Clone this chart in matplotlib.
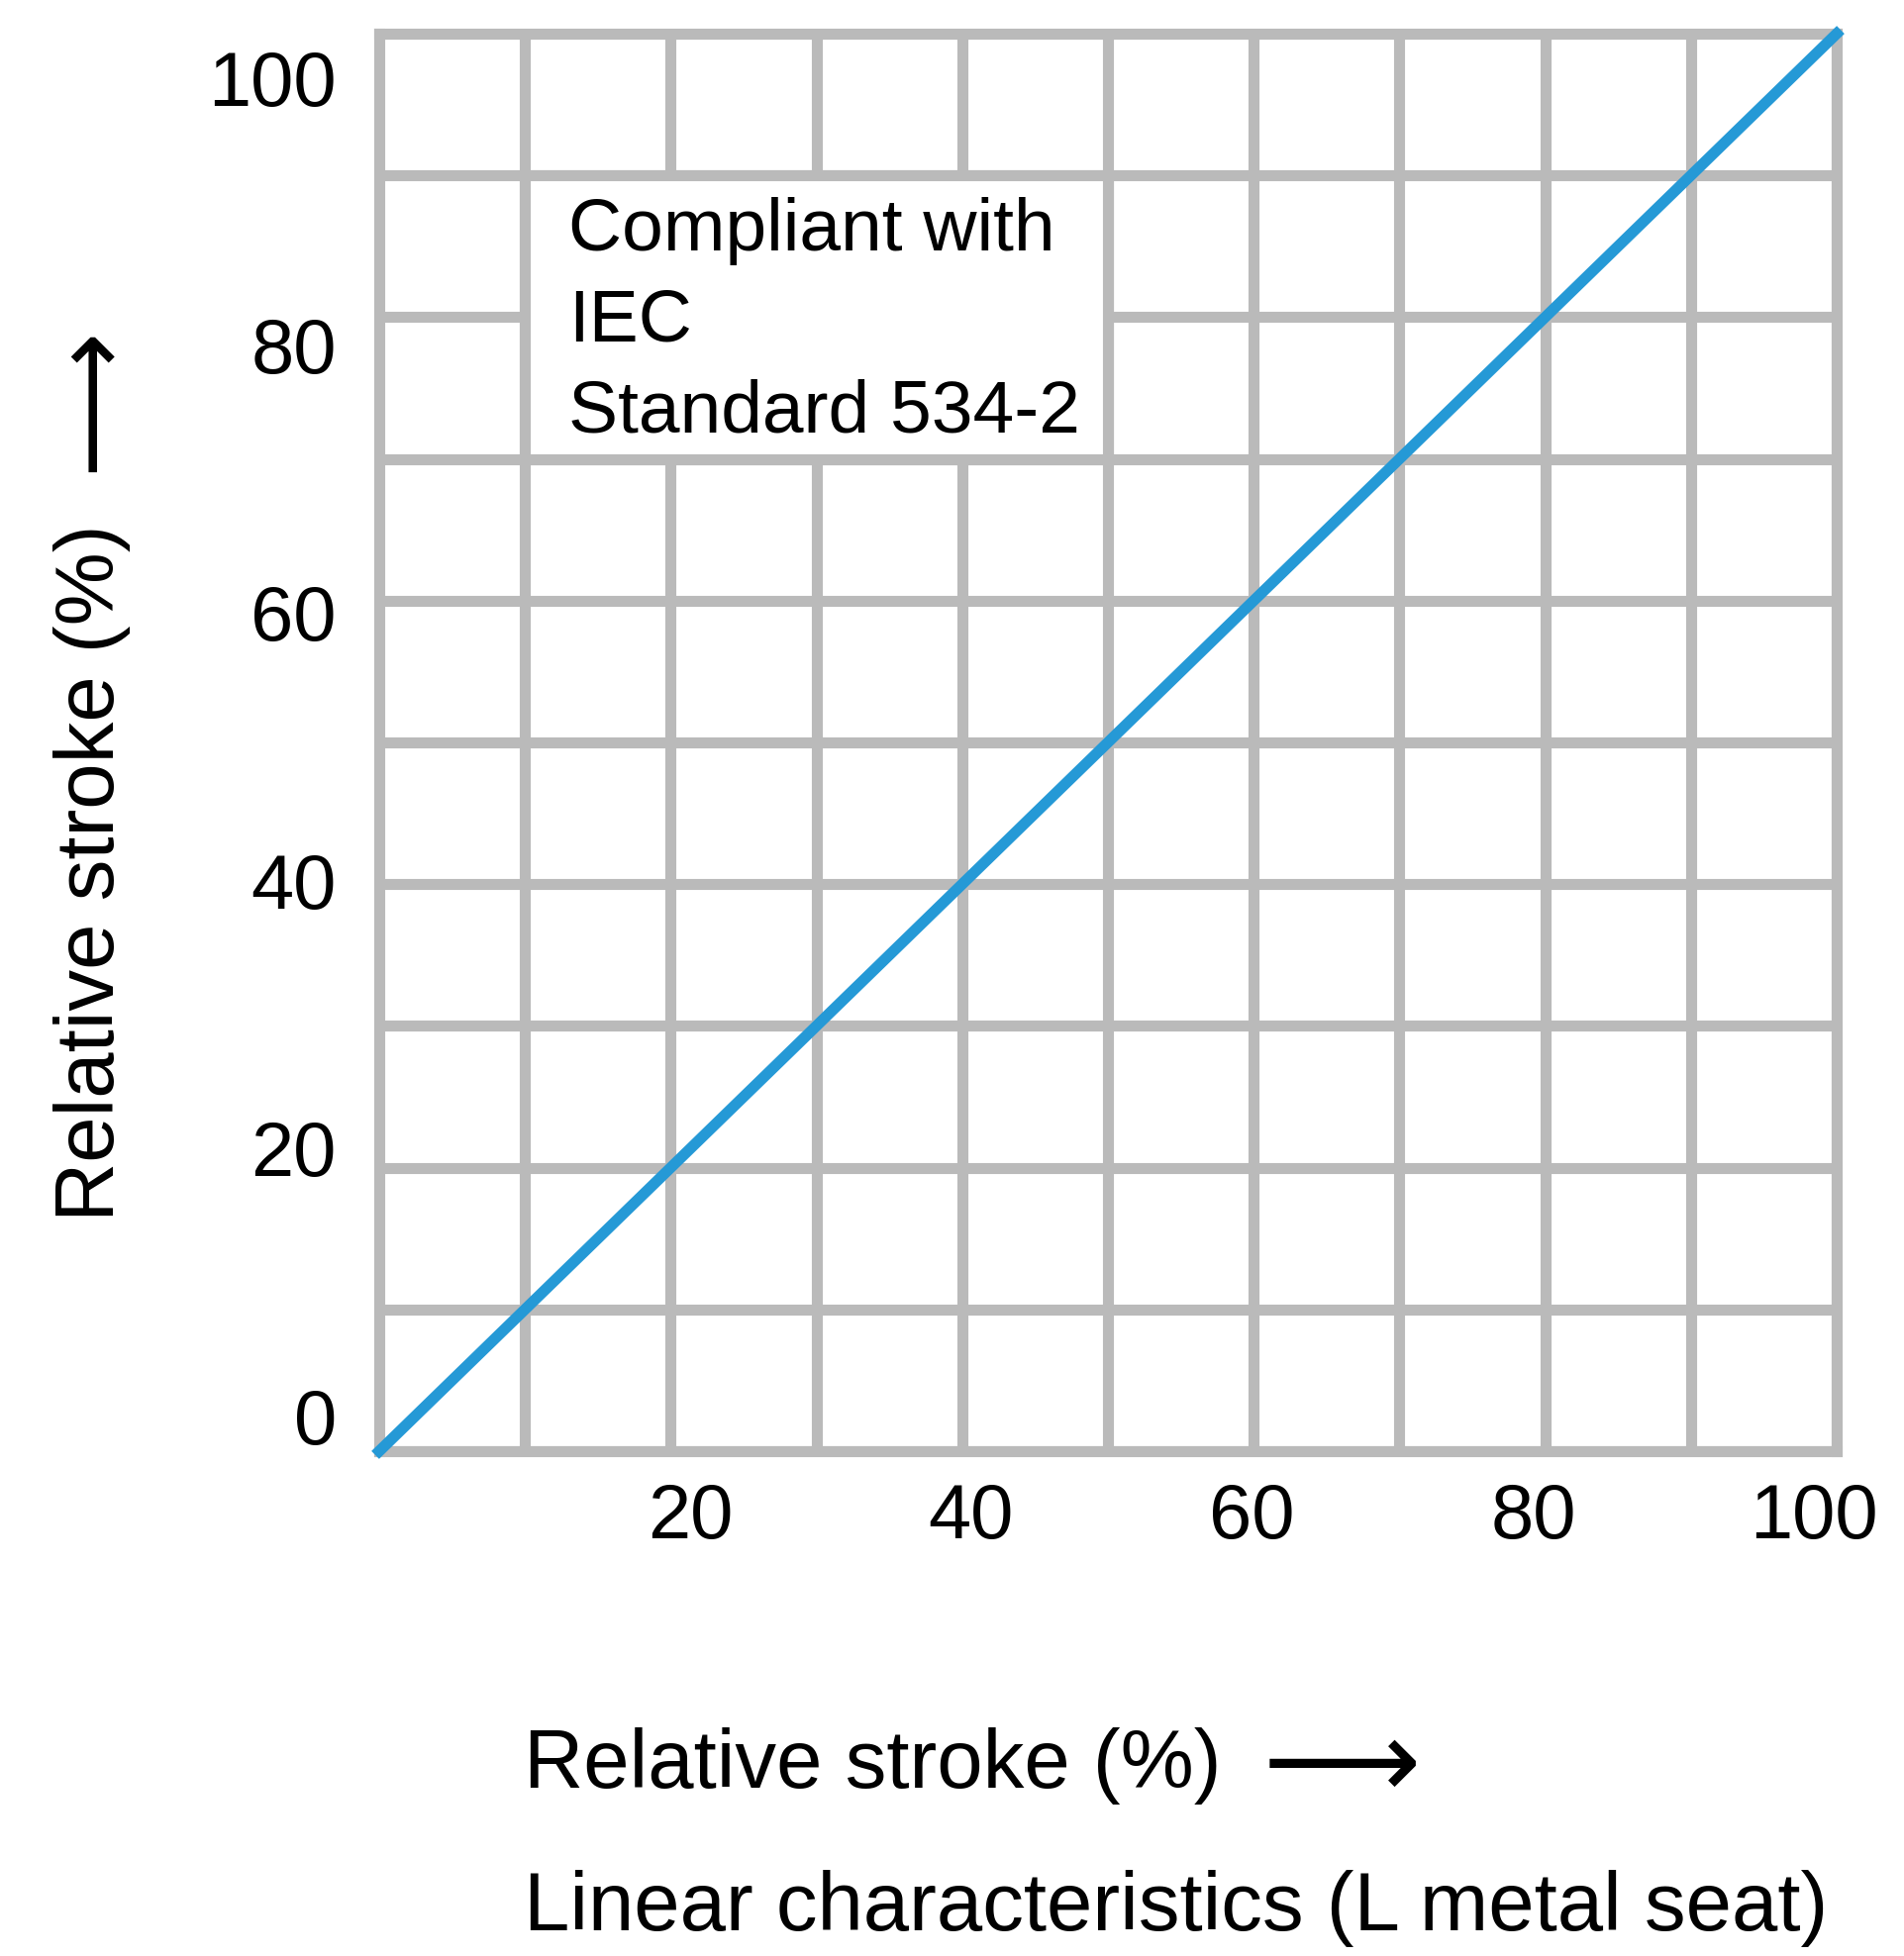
import matplotlib
matplotlib.use("Agg")
import matplotlib.pyplot as plt
from matplotlib.patches import Rectangle

# ---- data ----
stroke_x = [0, 100]          # relative stroke (%) - input
stroke_y = [0, 100]          # relative stroke (%) - output (linear)
x_ticks = [20, 40, 60, 80, 100]
y_ticks = [0, 20, 40, 60, 80, 100]
grid_minor = [10, 30, 50, 70, 90]
note_text = "Compliant with\nIEC\nStandard 534-2"
xlabel_text = "Relative stroke (%)"
ylabel_text = "Relative stroke (%)"
subtitle_text = "Linear characteristics (L metal seat)"

W, H = 1923, 1976
GRID = "#bababa"
BLUE = "#2599d6"
FONT = ["Liberation Sans", "DejaVu Sans"]

plt.rcParams["font.family"] = FONT

fig = plt.figure(figsize=(W / 100, H / 100), dpi=100)
left, right, top, bottom = 383, 1855, 34, 1466
rect = [left / W, 1 - bottom / H, (right - left) / W, (bottom - top) / H]

# label-only axes (the printed scale labels sit slightly off the grid lines)
lab = fig.add_axes(rect, frameon=False, zorder=0)
lab.patch.set_visible(False)
lab.set_xlim(-2.13, 101.6)
lab.set_ylim(-2.66, 103.26)
lab.set_xticks(x_ticks)
lab.set_yticks(y_ticks)
lab.tick_params(which="both", length=0)
lab.tick_params(axis="x", labelsize=56, pad=22)
lab.tick_params(axis="y", labelsize=56, pad=31)

ax = fig.add_axes(rect, zorder=1)
ax.set_xlim(0, 100)
ax.set_ylim(0, 100)
ax.set_xticks(x_ticks)
ax.set_yticks(y_ticks)
ax.set_xticks(grid_minor, minor=True)
ax.set_yticks(grid_minor, minor=True)
ax.tick_params(which="both", length=0, labelbottom=False, labelleft=False)
ax.set_axisbelow(True)
ax.grid(True, which="both", color=GRID, linewidth=8, solid_capstyle="projecting")
for s in ax.spines.values():
    s.set_color(GRID)
    s.set_linewidth(8)
    s.set_capstyle("projecting")

# note box covering interior grid cells
ax.add_patch(Rectangle((10, 70), 40, 20, facecolor="white", edgecolor=GRID,
                       linewidth=8, zorder=1.5))
ax.text(13.0, 88.5, note_text, fontsize=54, va="top", ha="left",
        linespacing=1.42, zorder=4)

# linear characteristic
ax.plot(stroke_x, stroke_y, color=BLUE, linewidth=8, solid_capstyle="projecting",
        clip_on=False, zorder=3)

# axis labels
fig.text(529 / W, 1 - 1806 / H, xlabel_text, fontsize=60, ha="left", va="baseline")
fig.text(1276 / W, 1 - 1785 / H, "\u27f6", fontsize=80, ha="left", va="center",
         family="DejaVu Sans")
fig.text(529 / W, 1 - 1950 / H, subtitle_text, fontsize=60, ha="left", va="baseline")

fig.text(93 / W, 1 - 530 / H, ylabel_text, fontsize=60, rotation=90,
         ha="center", va="top")
fig.text(93 / W, 1 - 403 / H, "\u27f6", fontsize=74, rotation=90,
         ha="center", va="center", family="DejaVu Sans")

fig.savefig("out.png", dpi=100, facecolor="white")
